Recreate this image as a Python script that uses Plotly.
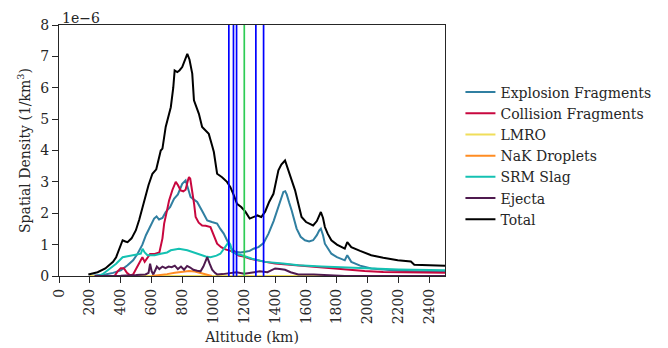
import plotly.graph_objects as go

# Altitude (km) / spatial density (units of 1e-6 per km^3)
explosion_alt = [200,250,300,350,400,444,480,509,540,563,590,616,632,648,670,691,720,745,770,798,820,835,852,870,895,930,960,990,1024,1045,1067,1099,1120,1142,1175,1207,1235,1260,1292,1325,1357,1390,1421,1440,1453,1465,1475,1490,1507,1539,1565,1593,1620,1646,1670,1685,1696,1710,1722,1764,1800,1851,1867,1893,1950,2022,2100,2200,2300,2400,2500]
explosion_val = [0.0,0.02,0.05,0.1,0.18,0.34,0.5,0.71,1.0,1.3,1.55,1.83,1.9,1.8,1.85,2.04,2.2,2.46,2.6,2.94,3.05,2.8,2.52,2.45,2.36,2.05,1.77,1.72,1.67,1.5,1.35,1.03,0.85,0.77,0.75,0.77,0.8,0.87,0.92,1.05,1.35,1.75,2.2,2.5,2.68,2.7,2.6,2.35,2.09,1.51,1.25,1.14,1.1,1.14,1.3,1.45,1.51,1.3,1.03,0.71,0.6,0.5,0.66,0.45,0.33,0.24,0.2,0.17,0.15,0.14,0.13]

collision_alt = [360,380,400,420,440,460,480,500,520,540,555,570,590,620,650,670,681,700,713,735,756,770,788,805,820,835,842,850,863,875,885,905,927,950,981,1000,1024,1050,1078,1110,1131,1164,1196,1239,1280,1335,1400,1550,1650,1764,1850,1979,2100,2250,2500]
collision_val = [0.0,0.15,0.25,0.25,0.1,0.02,0.05,0.25,0.4,0.6,0.45,0.55,0.7,0.7,0.75,1.2,1.67,2.1,2.41,2.75,3.0,2.9,2.73,2.7,2.75,3.05,3.15,3.1,2.73,2.3,1.88,1.7,1.61,1.6,1.56,1.3,1.03,0.92,0.85,0.8,0.77,0.65,0.62,0.55,0.5,0.45,0.4,0.34,0.3,0.24,0.2,0.16,0.13,0.11,0.1]

lmro_alt = [200,600,1000,1400,1800,2200,2500]
lmro_val = [0.0,0.004,0.004,0.003,0.003,0.002,0.002]

nak_alt = [600,650,700,750,800,842,880,920,960,990]
nak_val = [0.0,0.02,0.06,0.1,0.14,0.16,0.14,0.09,0.03,0.0]

srm_alt = [250,280,320,370,412,440,466,500,530,541,555,573,620,659,700,724,777,831,870,917,950,981,1020,1045,1078,1099,1110,1121,1150,1185,1250,1335,1450,1550,1700,1850,1979,2200,2500]
srm_val = [0.0,0.05,0.2,0.39,0.6,0.63,0.66,0.68,0.71,0.87,0.75,0.66,0.66,0.71,0.75,0.82,0.87,0.82,0.75,0.66,0.62,0.6,0.65,0.71,0.92,1.08,1.0,0.77,0.7,0.66,0.55,0.45,0.4,0.34,0.3,0.27,0.24,0.21,0.18]

ejecta_alt = [230,300,400,500,560,580,590,600,611,625,634,650,670,690,710,730,750,770,790,810,830,850,870,895,917,935,950,960,975,992,1010,1024,1060,1100,1150,1200,1250,1300,1350,1400,1430,1464,1500,1550,1650,1750,1800,1850,2500]
ejecta_val = [0.0,0.0,0.01,0.03,0.05,0.1,0.39,0.15,0.05,0.2,0.3,0.22,0.3,0.25,0.3,0.28,0.33,0.22,0.3,0.2,0.32,0.27,0.2,0.17,0.15,0.3,0.5,0.6,0.4,0.2,0.1,0.05,0.06,0.08,0.12,0.07,0.1,0.15,0.12,0.24,0.22,0.2,0.12,0.05,0.05,0.02,0.0,0.0,0.0]

total_alt = [190,200,250,300,350,370,400,412,430,444,470,498,520,552,580,605,630,659,670,691,710,724,740,749,766,780,798,815,831,845,863,874,890,906,927,950,970,992,1003,1024,1056,1088,1110,1130,1153,1180,1207,1235,1260,1285,1310,1335,1360,1389,1421,1440,1464,1480,1496,1510,1529,1550,1571,1600,1646,1670,1696,1710,1722,1740,1764,1800,1851,1867,1893,1950,2022,2100,2194,2279,2301,2400,2500]
total_val = [0.05,0.06,0.12,0.24,0.45,0.6,0.95,1.14,1.1,1.08,1.2,1.46,1.8,2.41,2.9,3.26,3.4,4.0,4.06,4.75,5.1,5.38,6.0,6.55,6.5,6.55,6.66,6.85,7.08,6.9,6.45,5.6,5.4,5.17,4.75,4.62,4.53,4.15,3.95,3.26,3.15,3.0,2.83,2.6,2.3,2.2,2.05,1.83,1.88,1.93,1.88,2.05,2.35,2.62,3.37,3.55,3.68,3.45,3.15,2.95,2.73,2.3,1.88,1.72,1.61,1.75,2.04,1.85,1.56,1.35,1.14,1.0,0.87,1.08,0.92,0.8,0.66,0.58,0.5,0.46,0.36,0.34,0.33]

series_names = ["Explosion Fragments", "Collision Fragments", "LMRO", "NaK Droplets", "SRM Slag", "Ejecta", "Total"]
series_alts = [explosion_alt, collision_alt, lmro_alt, nak_alt, srm_alt, ejecta_alt, total_alt]
series_vals = [explosion_val, collision_val, lmro_val, nak_val, srm_val, ejecta_val, total_val]
series_colors = ["#307fa1", "#c8073f", "#f0de5a", "#ff8c22", "#14c1b2", "#4f1a4f", "#000000"]

blue_lines = [1100, 1130, 1150, 1275, 1325]
green_lines = [1200]

x_ticks = list(range(0, 2401, 200))
y_ticks = list(range(0, 9))

FONT = "DejaVu Serif"
TXT = "#262626"
FS = 14

fig = go.Figure()
for name, xs, ys, col in zip(series_names, series_alts, series_vals, series_colors):
    fig.add_trace(go.Scatter(x=xs, y=ys, mode="lines", name=name,
                             line=dict(color=col, width=2)))

for xv in blue_lines:
    fig.add_shape(type="line", x0=xv, x1=xv, y0=0, y1=1, xref="x", yref="paper",
                  line=dict(color="#0000ff", width=1.7), layer="above")
for xv in green_lines:
    fig.add_shape(type="line", x0=xv, x1=xv, y0=0, y1=1, xref="x", yref="paper",
                  line=dict(color="#2ecc55", width=1.7), layer="above")

fig.add_annotation(text="1e\u22126", xref="paper", yref="paper", x=0.0, y=1.0,
                   xanchor="left", yanchor="bottom", showarrow=False,
                   font=dict(family=FONT, size=FS, color=TXT), xshift=1, yshift=-3)

axis_common = dict(showline=True, linecolor=TXT, linewidth=1.25, mirror=True,
                   ticks="outside", ticklen=6, tickwidth=1.25, tickcolor=TXT,
                   showgrid=False, zeroline=False, automargin=False,
                   tickfont=dict(family=FONT, size=FS, color=TXT))

fig.update_xaxes(range=[0, 2500], tickvals=x_ticks, ticktext=[str(v) for v in x_ticks],
                 tickangle=-90, title=dict(text="Altitude (km)", standoff=8,
                 font=dict(family=FONT, size=FS, color=TXT)), **axis_common)
fig.update_yaxes(range=[0, 8], tickvals=y_ticks, ticktext=[str(v) for v in y_ticks],
                 title=dict(text="Spatial Density (1/km<sup>3</sup>)", standoff=6,
                 font=dict(family=FONT, size=FS, color=TXT)), **axis_common)

fig.update_layout(
    width=660, height=340,
    margin=dict(l=51, r=221, t=17, b=72),
    paper_bgcolor="white", plot_bgcolor="white",
    font=dict(family=FONT, size=FS, color=TXT),
    legend=dict(x=1.04, y=0.795, xanchor="left", yanchor="top",
                font=dict(family=FONT, size=FS, color=TXT),
                bgcolor="rgba(0,0,0,0)", tracegroupgap=0, itemwidth=30),
    showlegend=True,
)

fig.write_html("out.html")
